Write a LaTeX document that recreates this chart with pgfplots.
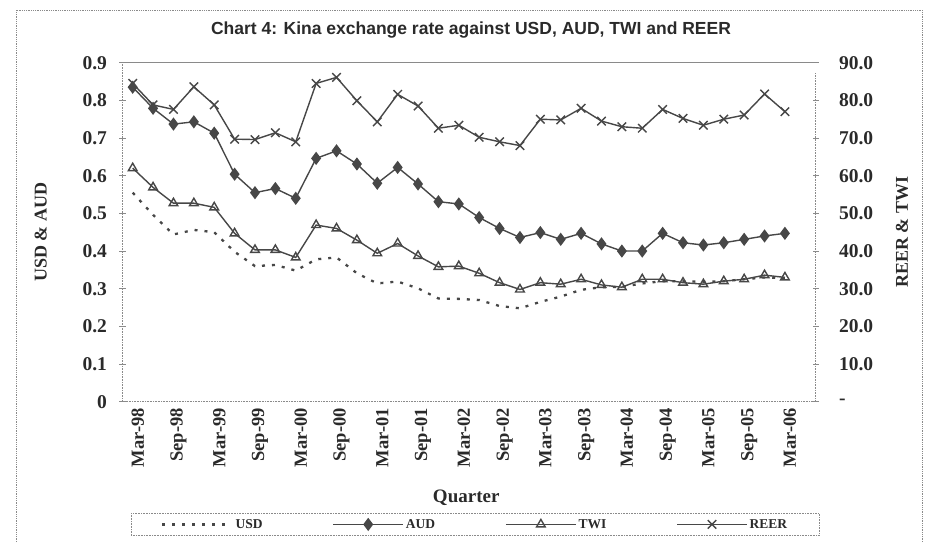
\documentclass[border=0pt]{standalone}
\usepackage{pgfplots}
\pgfplotsset{compat=1.18}
\usepackage{fontspec}
\setmainfont{Liberation Serif}
\newfontfamily\arialfont{Liberation Sans}
\definecolor{ln}{HTML}{474747}
\definecolor{tx}{HTML}{2A2A2A}
\definecolor{fr}{HTML}{8A8A8A}

\pgfplotstableread{
i USD AUD TWI REER
0 0.555 0.835 62.0 84.5
1 0.496 0.779 56.9 78.8
2 0.444 0.737 52.7 77.6
3 0.456 0.743 52.7 83.6
4 0.450 0.713 51.6 78.8
5 0.398 0.604 44.7 69.7
6 0.360 0.555 40.3 69.6
7 0.363 0.566 40.3 71.4
8 0.348 0.540 38.3 69.0
9 0.378 0.646 46.9 84.5
10 0.383 0.666 46.0 86.1
11 0.341 0.631 42.9 79.9
12 0.314 0.580 39.4 74.3
13 0.319 0.622 42.0 81.6
14 0.301 0.578 38.7 78.5
15 0.274 0.531 35.8 72.6
16 0.273 0.525 36.0 73.4
17 0.270 0.489 34.1 70.2
18 0.254 0.460 31.6 69.0
19 0.248 0.436 29.8 68.0
20 0.265 0.449 31.6 75.0
21 0.279 0.431 31.2 74.8
22 0.297 0.447 32.5 77.9
23 0.304 0.419 31.0 74.5
24 0.305 0.400 30.4 73.0
25 0.314 0.400 32.5 72.6
26 0.320 0.447 32.5 77.6
27 0.320 0.422 31.6 75.2
28 0.318 0.416 31.2 73.4
29 0.320 0.422 32.0 75.0
30 0.325 0.431 32.5 76.1
31 0.330 0.440 33.6 81.7
32 0.328 0.447 33.0 77.0
}\datatable

\pgfplotsset{
  common/.style={
    scale only axis, width=693pt, height=339pt,
    xmin=-0.5, xmax=33.5, ymin=0,
    at={(122.5pt,140.3pt)}, anchor=south west,
    tick align=center, major tick length=6pt,
    tick style={fr, line width=0.5pt},
    axis line style={draw=none},
    ticklabel style={font=\fontsize{19.5}{21}\selectfont\bfseries, text=tx},
  },
  linelegend/.style={legend image code/.code={%
    \draw[mark repeat=2,mark phase=2,##1] plot coordinates {(0pt,0pt) (35pt,0pt) (70pt,0pt)};}},
}

\begin{document}
\begin{tikzpicture}
\useasboundingbox (0pt,0pt) rectangle (934pt,542pt);
\draw[fr, line width=0.8pt, densely dotted] (16pt,0pt) -- (16pt,532pt) -- (922pt,532pt) -- (922pt,0pt);

\begin{axis}[common,
  ymax=0.9,
  ytick={0,0.1,...,0.9},
  yticklabels={0,0.1,0.2,0.3,0.4,0.5,0.6,0.7,0.8,0.9},
  yticklabel style={xshift=-9pt},
  xtick={0,2,...,32},
  xticklabels={Mar-98,Sep-98,Mar-99,Sep-99,Mar-00,Sep-00,Mar-01,Sep-01,Mar-02,Sep-02,Mar-03,Sep-03,Mar-04,Sep-04,Mar-05,Sep-05,Mar-06},
  xticklabel style={rotate=90, anchor=east, yshift=-5pt, font=\fontsize{18.5}{20}\selectfont\bfseries},
  x tick style={draw=none},
  minor xtick={1.5,3.5,...,33.5},
  minor tick length=8pt,
  minor x tick style={fr, line width=0.5pt},
  axis y line*=left, axis x line*=bottom,
  clip=false,
  legend columns=4,
  legend style={at={(0.509,-0.362)}, anchor=center, draw=fr, densely dotted,
    line width=0.6pt, font=\fontsize{13.5}{15}\selectfont\bfseries, text=tx,
    inner xsep=30pt, inner ysep=3.5pt,
    /tikz/every even column/.append style={column sep=68pt}},
  legend cell align=left,
]
\draw[fr, line width=0.9pt] (rel axis cs:0,1) -- (rel axis cs:1,1);
\draw[fr, line width=0.6pt, densely dotted] (rel axis cs:0,0) -- (rel axis cs:0,1);
\draw[fr, line width=0.6pt, densely dotted] (rel axis cs:0,0) -- (rel axis cs:1,0);
\draw[fr, line width=0.6pt, densely dotted] (rel axis cs:1,0) -- (rel axis cs:1,0.97);
\addplot[ln, line width=2.3pt, dash pattern=on 3pt off 7pt, linelegend] table[x=i,y=USD] {\datatable};
\addlegendentry{USD}
\addplot[ln, line width=1.4pt, mark=diamond*, mark size=5.5pt, mark options={solid, fill=ln}, linelegend] table[x=i,y=AUD] {\datatable};
\addlegendentry{AUD}
\addlegendimage{ln, line width=1.4pt, mark=triangle, mark size=5pt, mark options={solid, fill=white, line width=1.4pt}, linelegend}
\addlegendentry{TWI}
\addlegendimage{ln, line width=1.4pt, mark=x, mark size=6pt, mark options={solid, line width=1.4pt}, linelegend}
\addlegendentry{REER}
\node[font=\fontsize{18}{20}\selectfont\bfseries, text=tx, rotate=90] at (axis description cs:-0.118,0.5) {USD \& AUD};
\node[font=\fontsize{18}{20}\selectfont\bfseries, text=tx, rotate=90] at (axis description cs:1.125,0.5) {REER \& TWI};
\node[font=\fontsize{19}{21}\selectfont\bfseries, text=tx] at (axis description cs:0.496,-0.282) {Quarter};
\end{axis}

\begin{axis}[common,
  ymax=90,
  ytick={0,10,...,90},
  yticklabels={-,10.0,20.0,30.0,40.0,50.0,60.0,70.0,80.0,90.0},
  yticklabel style={xshift=17pt},
  axis y line*=right, axis x line=none,
  xtick=\empty,
]
\addplot[ln, line width=1.4pt, mark=triangle, mark size=5pt, mark options={solid, fill=white, line width=1.4pt}] table[x=i,y=TWI] {\datatable};
\addplot[ln, line width=1.4pt, mark=x, mark size=6pt, mark options={solid, line width=1.4pt}] table[x=i,y=REER] {\datatable};
\end{axis}

\node[font=\arialfont\fontsize{17.5}{19}\selectfont\bfseries, text=tx] at (471pt,512pt) {Chart 4: Kina exchange rate against USD, AUD, TWI and REER};
\end{tikzpicture}
\end{document}
